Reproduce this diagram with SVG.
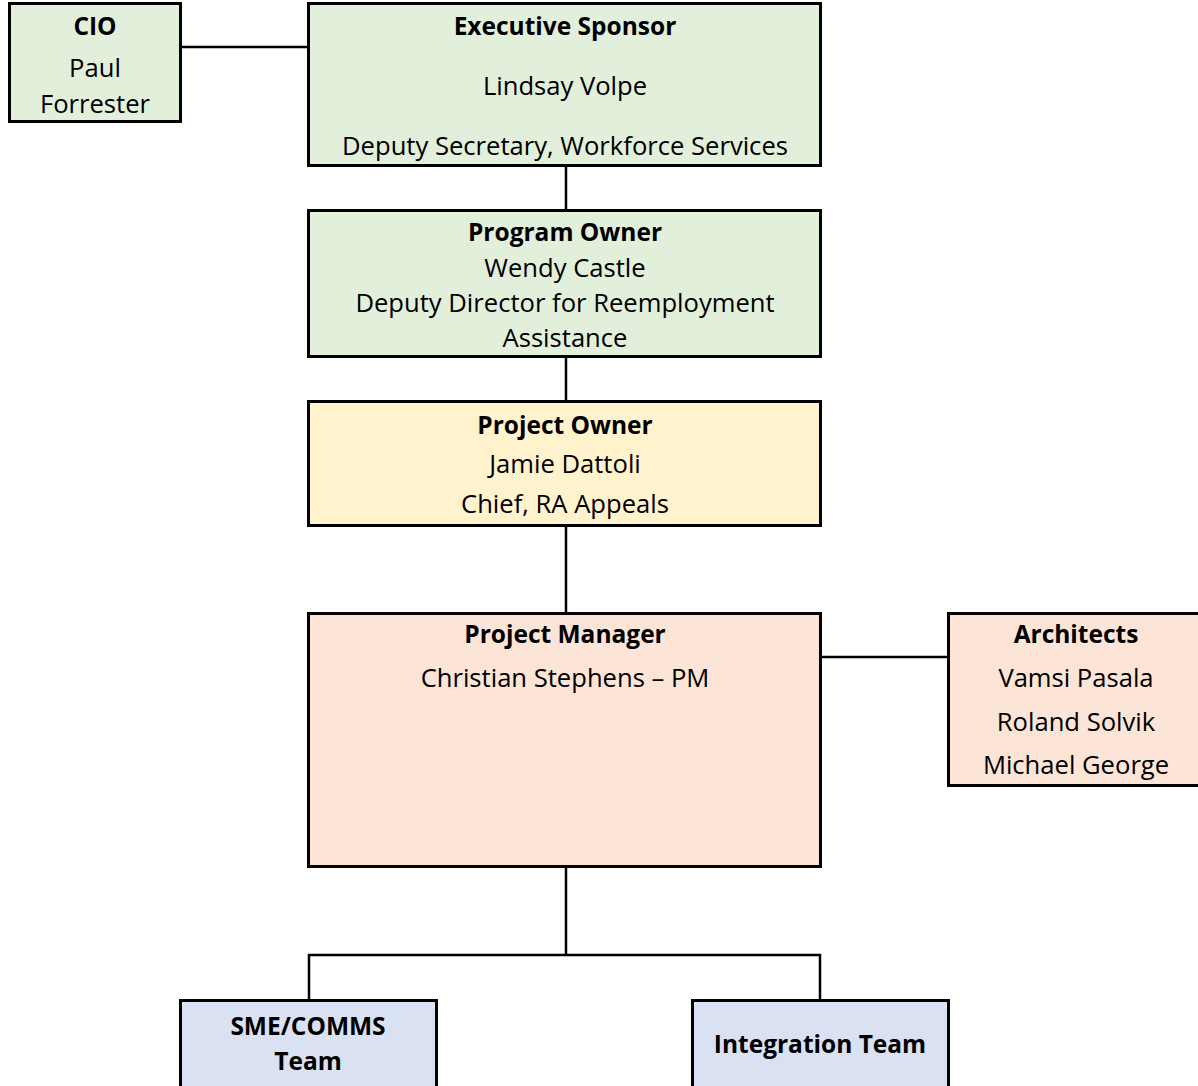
<svg xmlns="http://www.w3.org/2000/svg" width="1198" height="1086" viewBox="0 0 1198 1086">
<style>
  .box{stroke:#000;stroke-width:3}
  .green{fill:#E2EFDA}
  .yellow{fill:#FFF2CC}
  .peach{fill:#FCE4D6}
  .blue{fill:#D9E1F2}
  text{font-family:"Open Sans","Noto Sans",sans-serif;font-size:25.6px;fill:#000;text-anchor:middle}
  .b{font-weight:bold;font-size:24.5px}
  .conn{stroke:#000;stroke-width:2.5;fill:none}
</style>
<rect width="1198" height="1086" fill="#fff"/>
<g id="connectors">
  <line class="conn" x1="181" y1="47" x2="308" y2="47"/>
  <line class="conn" x1="566" y1="166" x2="566" y2="209"/>
  <line class="conn" x1="566" y1="357" x2="566" y2="400"/>
  <line class="conn" x1="566" y1="527" x2="566" y2="612"/>
  <line class="conn" x1="821" y1="657" x2="948" y2="657"/>
  <polyline class="conn" points="566,867 566,955"/>
  <polyline class="conn" points="309,1000 309,955 820,955 820,1000"/>
</g>
<g id="cio">
  <rect class="box green" x="9.5" y="3.5" width="171" height="118"/>
  <text class="b" x="95" y="35">CIO</text>
  <text x="95" y="77">Paul</text>
  <text x="95" y="113">Forrester</text>
</g>
<g id="executive-sponsor">
  <rect class="box green" x="308.5" y="3.5" width="512" height="162"/>
  <text class="b" x="565" y="35">Executive Sponsor</text>
  <text x="565" y="95">Lindsay Volpe</text>
  <text x="565" y="155">Deputy Secretary, Workforce Services</text>
</g>
<g id="program-owner">
  <rect class="box green" x="308.5" y="210.5" width="512" height="146"/>
  <text class="b" x="565" y="241">Program Owner</text>
  <text x="565" y="277">Wendy Castle</text>
  <text x="565" y="312">Deputy Director for Reemployment</text>
  <text x="565" y="347">Assistance</text>
</g>
<g id="project-owner">
  <rect class="box yellow" x="308.5" y="401.5" width="512" height="124"/>
  <text class="b" x="565" y="434">Project Owner</text>
  <text x="565" y="473">Jamie Dattoli</text>
  <text x="565" y="513">Chief, RA Appeals</text>
</g>
<g id="project-manager">
  <rect class="box peach" x="308.5" y="613.5" width="512" height="253"/>
  <text class="b" x="565" y="643">Project Manager</text>
  <text x="565" y="687">Christian Stephens – PM</text>
</g>
<g id="architects">
  <rect class="box peach" x="948.5" y="613.5" width="254" height="172"/>
  <text class="b" x="1076" y="643">Architects</text>
  <text x="1076" y="687">Vamsi Pasala</text>
  <text x="1076" y="731">Roland Solvik</text>
  <text x="1076" y="774">Michael George</text>
</g>
<g id="sme-comms-team">
  <rect class="box blue" x="180.5" y="1000.5" width="256" height="90"/>
  <text class="b" x="308" y="1035">SME/COMMS</text>
  <text class="b" x="308" y="1070">Team</text>
</g>
<g id="integration-team">
  <rect class="box blue" x="692.5" y="1000.5" width="256" height="90"/>
  <text class="b" x="820" y="1053">Integration Team</text>
</g>
</svg>
